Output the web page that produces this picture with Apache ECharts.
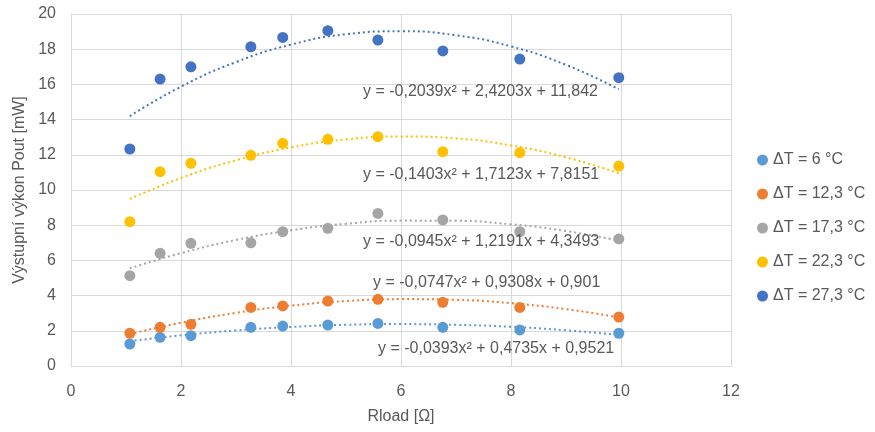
<!DOCTYPE html>
<html>
<head>
<meta charset="utf-8">
<script src="https://cdn.jsdelivr.net/npm/echarts@6/dist/echarts.min.js"></script>
<style>
  html, body { margin: 0; padding: 0; background: #fff; }
  #chart { width: 875px; height: 432px; }
</style>
</head>
<body>
<div id="chart"></div>
<script>
// Measured points (Rload in ohm, Pout in mW)
var rload = [1.07, 1.62, 2.18, 3.27, 3.85, 4.67, 5.58, 6.76, 8.16, 9.96];
var pout6 = [1.25, 1.63, 1.72, 2.2, 2.27, 2.33, 2.42, 2.2, 2.05, 1.86];
var pout12 = [1.86, 2.2, 2.37, 3.33, 3.41, 3.69, 3.79, 3.62, 3.33, 2.78];
var pout17 = [5.13, 6.4, 6.97, 7.0, 7.63, 7.82, 8.67, 8.3, 7.63, 7.22];
var pout22 = [8.2, 11.04, 11.52, 11.97, 12.65, 12.88, 13.03, 12.18, 12.12, 11.36];
var pout27 = [12.33, 16.3, 17.0, 18.14, 18.67, 19.05, 18.52, 17.9, 17.44, 16.38];

// Trend lines
var trendX = [1.07, 2, 3, 4, 5, 6, 7, 8, 9, 9.96];
var trend6 = [1.41, 1.74, 2.02, 2.22, 2.34, 2.38, 2.34, 2.23, 2.03, 1.77];
var trend12 = [1.81, 2.46, 3.02, 3.43, 3.69, 3.80, 3.76, 3.57, 3.23, 2.76];
var trend17 = [5.55, 6.41, 7.16, 7.71, 8.08, 8.26, 8.25, 8.05, 7.67, 7.12];
var trend22 = [9.49, 10.68, 11.69, 12.42, 12.87, 13.04, 12.93, 12.53, 11.86, 10.95];
var trend27 = [14.20, 15.87, 17.27, 18.26, 18.85, 19.02, 18.79, 18.16, 17.11, 15.72];

var names = ['ΔT = 6 °C', 'ΔT = 12,3 °C', 'ΔT = 17,3 °C', 'ΔT = 22,3 °C', 'ΔT = 27,3 °C'];
var equations = [
  'y = -0,0393x² + 0,4735x + 0,9521',
  'y = -0,0747x² + 0,9308x + 0,901',
  'y = -0,0945x² + 1,2191x + 4,3493',
  'y = -0,1403x² + 1,7123x + 7,8151',
  'y = -0,2039x² + 2,4203x + 11,842'
];
var colors = ['#5B9BD5', '#ED7D31', '#A5A5A5', '#FFC000', '#4472C4'];

var font = 'Liberation Sans, sans-serif';
var textColor = '#595959';

function pairs(xs, ys) {
  return xs.map(function (x, i) { return [x, ys[i]]; });
}

var points = [pout6, pout12, pout17, pout22, pout27];
var trends = [trend6, trend12, trend17, trend22, trend27];

var series = [];
// Trend lines first so the dots sit on top
trends.forEach(function (t, i) {
  series.push({
    name: 'trend' + i,
    type: 'line',
    smooth: true,
    symbol: 'none',
    silent: true,
    data: pairs(trendX, t),
    lineStyle: { color: colors[i], width: 2, type: [2, 3] },
    z: 2
  });
});
points.forEach(function (p, i) {
  series.push({
    name: names[i],
    type: 'scatter',
    symbolSize: 11,
    data: pairs(rload, p),
    itemStyle: { color: colors[i], opacity: 1 },
    z: 3
  });
});

// Equation labels (pixel positions of the Excel text boxes)
var eqPos = [[378, 341], [373, 275], [363, 234], [363, 167], [363, 84]];
var graphics = equations.map(function (e, i) {
  return {
    type: 'text',
    left: eqPos[i][0],
    top: eqPos[i][1],
    z: 10,
    style: { text: e, fill: textColor, font: '16px ' + font }
  };
});

var chart = echarts.init(document.getElementById('chart'));
chart.setOption({
  animation: false,
  grid: { left: 71, right: 144, top: 14, bottom: 66 },
  xAxis: {
    type: 'value',
    min: 0, max: 12, interval: 2,
    name: 'Rload [Ω]',
    nameLocation: 'middle',
    nameGap: 43,
    nameTextStyle: { color: textColor, fontSize: 16, fontFamily: font },
    axisLine: { lineStyle: { color: '#d9d9d9' } },
    axisTick: { show: false },
    axisLabel: { color: textColor, fontSize: 16, fontFamily: font, margin: 18 },
    splitLine: { lineStyle: { color: '#d9d9d9' } }
  },
  yAxis: {
    type: 'value',
    min: 0, max: 20, interval: 2,
    name: 'Výstupní výkon Pout [mW]',
    nameLocation: 'middle',
    nameGap: 37,
    nameTextStyle: { color: textColor, fontSize: 16, fontFamily: font },
    axisLine: { show: true, lineStyle: { color: '#d9d9d9' } },
    axisTick: { show: false },
    axisLabel: { color: textColor, fontSize: 16, fontFamily: font, margin: 15 },
    splitLine: { lineStyle: { color: '#d9d9d9' } }
  },
  legend: {
    data: names,
    orient: 'vertical',
    left: 752,
    top: 147,
    itemGap: 18,
    itemWidth: 11,
    itemHeight: 11,
    icon: 'circle',
    textStyle: { color: textColor, fontSize: 16, fontFamily: font }
  },
  graphic: graphics,
  series: series
});
</script>
</body>
</html>
